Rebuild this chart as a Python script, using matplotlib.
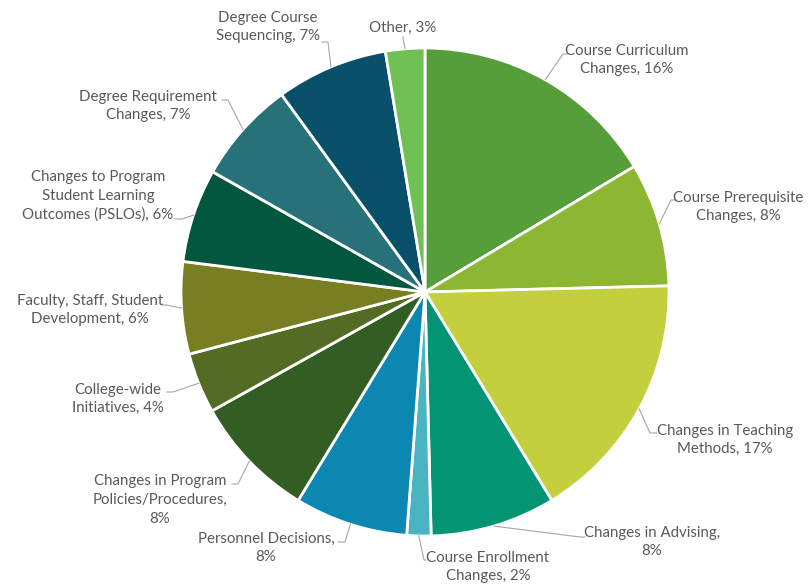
import matplotlib
matplotlib.use("Agg")
import matplotlib.pyplot as plt
import numpy as np

categories = [
    "Course Curriculum\nChanges", "Course Prerequisite\nChanges", "Changes in Teaching\nMethods",
    "Changes in Advising,\n", "Course Enrollment\nChanges", "Personnel Decisions,\n",
    "Changes in Program\nPolicies/Procedures,\n", "College-wide\nInitiatives",
    "Faculty, Staff, Student\nDevelopment", "Changes to Program\nStudent Learning\nOutcomes (PSLOs)",
    "Degree Requirement\nChanges", "Degree Course\nSequencing", "Other",
]
values = [16.4, 8.2, 16.7, 8.3, 1.6, 7.5, 8.2, 4.0, 6.1, 6.2, 6.8, 7.4, 2.6]
pct_labels = ["16%", "8%", "17%", "8%", "2%", "8%", "8%", "4%", "6%", "6%", "7%", "7%", "3%"]
colors = ["#559E3A", "#8DB634", "#C3CF3C", "#039473", "#4BB4C3", "#0C87B2", "#325E24",
          "#536B22", "#787F22", "#03573F", "#27717A", "#08506A", "#71C055"]

W, H = 809, 584
fig = plt.figure(figsize=(W / 100, H / 100), dpi=100)
ax = fig.add_axes([0, 0, 1, 1])

cx, cy, R = 425, 584 - 292, 244
wedges, _ = ax.pie(values, colors=colors, startangle=90, counterclock=False,
                   center=(cx, cy), radius=R, frame=True,
                   wedgeprops=dict(edgecolor="white", linewidth=2))
ax.set_xlim(0, W)
ax.set_ylim(0, H)
ax.set_aspect("equal")
ax.axis("off")

# label layout (pixel coords, y measured from top): text centre, leader points
layout = [
    ((627, 60), [(567, 54), (563, 54)]),
    ((738, 207), [(676, 200), (671, 200)]),
    ((725, 440), [(657, 433), (650, 433)]),
    ((652, 542), [(585, 537), (580, 537)]),
    ((488, 567), [(426, 560), (424, 560)]),
    ((266, 548), [(338, 542), (345, 542)]),
    ((160, 500), [(232, 484), (238, 484)]),
    ((118, 399), [(167, 392), (173, 392)]),
    ((90, 310), [(162, 305), (166, 305)]),
    ((98, 196), [(175, 219), (182, 219)]),
    ((148, 106), [(222, 100), (228, 100)]),
    ((268, 27), [(322, 42), (328, 42)]),
    ((403, 28), [(403, 37), (403, 38)]),
]

tc = "#595959"
for w, cat, pct, (tpos, pts) in zip(wedges, categories, pct_labels, layout):
    if cat.endswith("\n"):
        txt = cat + pct
    else:
        txt = cat + ", " + pct
    ax.text(tpos[0], H - tpos[1], txt, ha="center", va="center", fontsize=10.8,
            color=tc, family=["Lato", "DejaVu Sans"], linespacing=1.42)
    mid = np.deg2rad((w.theta1 + w.theta2) / 2)
    ex, ey = cx + R * np.cos(mid), cy + R * np.sin(mid)
    xs = [p[0] for p in pts] + [ex]
    ys = [H - p[1] for p in pts] + [ey]
    ax.plot(xs, ys, color="#A6A6A6", lw=0.8)

fig.savefig("out.png", dpi=100, facecolor="white")
